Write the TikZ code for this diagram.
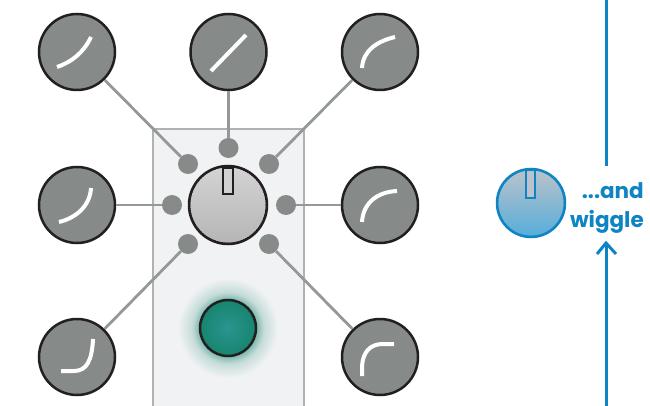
\documentclass[tikz,border=0pt]{standalone}
\usepackage{fontspec}
\setsansfont{Poppins}
\definecolor{panelfill}{HTML}{F1F2F4}
\definecolor{paneledge}{HTML}{B0B2B2}
\definecolor{dial}{HTML}{868A88}
\definecolor{rim}{HTML}{231F20}
\definecolor{wire}{HTML}{959898}
\definecolor{ledcore}{HTML}{2A9490}
\definecolor{ledrim}{HTML}{17856F}
\definecolor{wiggle}{HTML}{0F84C4}
\definecolor{wigglesoft}{HTML}{55ADDB}
\definecolor{wigglegrey}{HTML}{BCC2CA}
\pgfdeclareradialshading{ledglow}{\pgfpoint{0bp}{0bp}}{color(0bp)=(ledrim); color(14bp)=(ledrim!55!panelfill); color(18bp)=(ledrim!20!panelfill); color(25bp)=(panelfill); color(50bp)=(panelfill)}
\pgfdeclareradialshading{ledface}{\pgfpoint{0bp}{0bp}}{color(0bp)=(ledcore); color(25bp)=(ledrim); color(50bp)=(ledrim)}
\begin{document}
\begin{tikzpicture}[x=1pt, y=-1pt, node distance=151.5pt,
    every node/.style={inner sep=0pt},
    dialnode/.style={circle, draw=rim, line width=2.5pt, fill=dial, minimum size=76pt},
    port/.style={circle, fill=dial, minimum size=20pt},
    wirelink/.style={draw=wire, line width=2.8pt},
    curve/.style={draw=white, line width=4pt}]
    \useasboundingbox (0,0) rectangle (650,406);
    \fill[panelfill, draw=paneledge, line width=2pt] (153,129) rectangle (304,407);
    \node[dialnode] (tl) at (77,52) {};
    \node[dialnode] (tm) [right of=tl] {};
    \node[dialnode] (tr) [right of=tm] {};
    \node[dialnode] (ml) [below of=tl, yshift=-1.5pt] {};
    \node[dialnode] (mr) [below of=tr, yshift=-1.5pt] {};
    \node[dialnode] (bl) [below of=ml, yshift=-0.5pt] {};
    \node[dialnode] (br) [below of=mr, yshift=-0.5pt] {};
    \node[circle, draw=rim, line width=2.5pt, shading=axis, top color=black!17, bottom color=black!29, minimum size=78pt] (knob) at (228,205) {};
    \node[port] (ptl) at (188,164) {};
    \node[port] (ptm) at (228.5,148) {};
    \node[port] (ptr) at (269,164) {};
    \node[port] (pml) at (172,205) {};
    \node[port] (pmr) at (286,205) {};
    \node[port] (pbl) at (188,244) {};
    \node[port] (pbr) at (269,244) {};
    \draw[wirelink] (tl) -- (ptl);
    \draw[wirelink] (tm) -- (ptm);
    \draw[wirelink] (tr) -- (ptr);
    \draw[wirelink] (ml) -- (pml);
    \draw[wirelink] (mr) -- (pmr);
    \draw[wirelink] (bl) -- (pbl);
    \draw[wirelink] (br) -- (pbr);
    % response curves
    \draw[curve] (57,67) .. controls (72,62) and (84,52) .. (91,37);
    \draw[curve] (211,71) -- (246,35);
    \draw[curve] (362,68) .. controls (363,50) and (378,41) .. (395,37);
    \draw[curve] (59,222) .. controls (76,218) and (90,206) .. (91,188);
    \draw[curve] (362,222) .. controls (363,204) and (376,192) .. (397,191);
    \draw[curve] (61,371) -- (74,371) .. controls (87,371) and (92,360) .. (93,339);
    \draw[curve] (362,376) -- (362,366) .. controls (363,352) and (370,344) .. (383,344) -- (394,344);
    % knob details
    \draw[rim, line width=0.7pt, dash pattern=on 1.2pt off 1.2pt] (knob.center) circle[radius=38pt];
    \draw[rim, line width=2.5pt, fill=black!18] (223,168) rectangle (233,194);
    % lamp
    \shade[shading=ledglow] (228,328) circle[radius=50pt];
    \node[circle, draw=rim, line width=2.5pt, shading=ledface, minimum size=56pt] (lamp) at (228,328) {};
    % right side
    \node[circle, draw=wiggle, line width=2.5pt, shading=axis, top color=wigglegrey, middle color=wigglesoft, bottom color=wigglesoft, minimum size=68pt] (wknob) at (531,203) {};
    \draw[wiggle, line width=0.7pt, dash pattern=on 1.2pt off 1.2pt] (wknob.center) circle[radius=33pt];
    \draw[wiggle, line width=2.5pt, fill=wigglegrey] (526,170) rectangle (535,198);
    \node[font=\sffamily\bfseries\fontsize{21.5}{29.5}\selectfont, text=wiggle, align=right, anchor=east] (wtext) at (644,208) {...and\\wiggle};
    \coordinate (wtop) at (606,0);
    \coordinate (wtopend) at (606,166);
    \coordinate (wbot) at (606,406);
    \coordinate (wtip) at (606,243);
    \draw[wiggle, line width=3pt] (wtop) -- (wtopend);
    \draw[wiggle, line width=3pt] (wbot) -- (wtip);
    \draw[wiggle, line width=3pt] (597,254) -- (wtip) -- (616,254);
\end{tikzpicture}
\end{document}
